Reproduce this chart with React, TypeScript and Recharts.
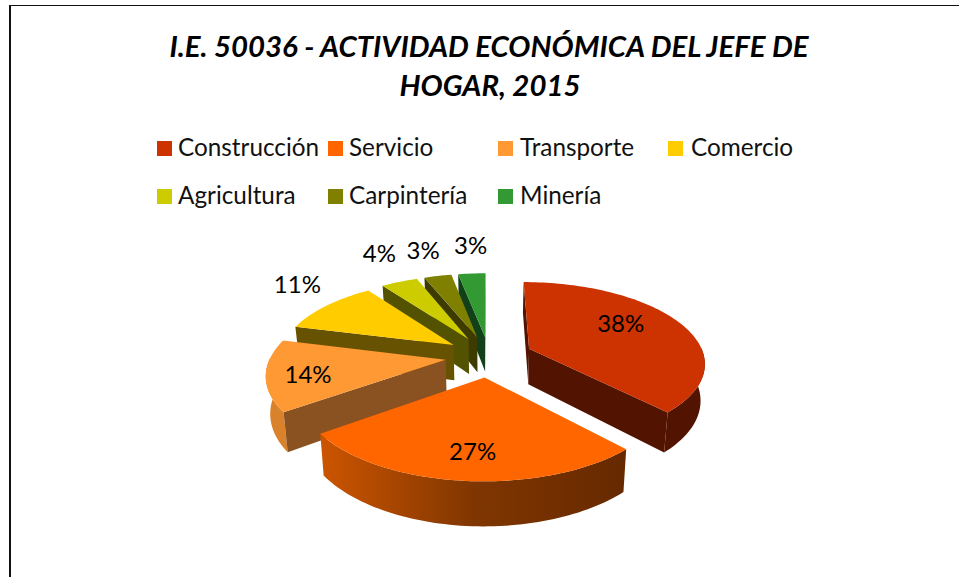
import { Legend, Pie, PieChart } from "recharts";

const CATEGORIES = ["Construcción", "Servicio", "Transporte", "Comercio", "Agricultura", "Carpintería", "Minería"];
const VALUES = [38, 27, 14, 11, 4, 3, 3];
const COLORS = ["#CC3300", "#FF6600", "#FF9933", "#FFCC00", "#CCCC00", "#808000", "#339933"];
const FACE_COLORS = ["#521400", "#662900", "#8A5220", "#665200", "#525200", "#3D3B00", "#124018"];
const ARC_COLORS = ["#521400", "url(#servicioWall)", "#D9822B", "#665200", "#525200", "#3D3B00", "#124018"];
const EXPLODE = [0.25, 0.26, 0.25, 0.25, 0.25, 0.25, 0.25];

// label placement: t along the slice's mid radius, then a pixel nudge
const LABEL_T = [0.6, 0.6, 0.6, 1.2, 1.2, 1.2, 1.2];
const LABEL_NUDGE = [
	[0, -10],
	[0, 16],
	[-31, 5],
	[-6, -15],
	[-8, -20],
	[-8, -16],
	[1, -18],
];

const LEGEND_SWATCH_X = [157, 328, 498, 668];
const LEGEND_TEXT_X = [178, 349, 520, 691];
const LEGEND_ROWS = [140, 188];

const FONT = "Lato, sans-serif";
const PERSPECTIVE = 0.16;
const SQUASH = 79.5 / 175;
const DEPTH = 36;
const WALL_TAPER = 0.98;

// drawn back to front, counter clockwise from 12 o'clock
const tableData = CATEGORIES.map((name, i) => ({ name, value: VALUES[i], index: i })).reverse();

const rad = (deg: number) => (deg * Math.PI) / 180;

function project(cx: number, cy: number, r: number, u: number, v: number) {
	const s = 1 / (1 - PERSPECTIVE * v);
	return { x: cx + r * u * s, y: cy + r * SQUASH * v * s, s };
}

function sliceGeometry(props: any) {
	const { cx, cy, outerRadius, startAngle, endAngle, midAngle, payload } = props;
	const index = payload.index ?? props.index;
	const lo = Math.min(startAngle, endAngle);
	const hi = Math.max(startAngle, endAngle);
	const e = EXPLODE[index];
	const ou = Math.cos(rad(midAngle)) * e;
	const ov = -Math.sin(rad(midAngle)) * e;
	const at = (deg: number, t: number) =>
		project(cx, cy, outerRadius, ou + t * Math.cos(rad(deg)), ov - t * Math.sin(rad(deg)));
	return { index, lo, hi, at };
}

const toPath = (pts: { x: number; y: number }[]) =>
	pts.map((p, i) => `${i ? "L" : "M"}${p.x.toFixed(2)} ${p.y.toFixed(2)}`).join(" ") + " Z";

function signedArea(pts: { x: number; y: number }[]) {
	let a = 0;
	pts.forEach((p, i) => {
		const q = pts[(i + 1) % pts.length];
		a += p.x * q.y - q.x * p.y;
	});
	return a;
}

function Slice(props: any) {
	const { index, lo, hi, at } = sliceGeometry(props);
	const down = (p: { x: number; y: number; s: number }) => ({
		x: props.cx + (p.x - props.cx) * WALL_TAPER,
		y: p.y + DEPTH * p.s,
		s: p.s,
	});
	const rim: { x: number; y: number; s: number }[] = [];
	const steps = Math.max(4, Math.ceil((hi - lo) / 1.5));
	for (let k = 0; k <= steps; k++) rim.push(at(lo + ((hi - lo) * k) / steps, 1));
	const apex = at(lo, 0);

	// outer wall, front half only
	const front: { x: number; y: number; s: number }[] = [];
	for (let k = 0; k <= steps; k++) {
		const deg = lo + ((hi - lo) * k) / steps;
		if (Math.sin(rad(deg)) <= 0.02) front.push(at(deg, 1));
	}
	const arcWall = front.length > 1 ? [...front, ...[...front].reverse().map(down)] : null;

	// radial faces, only those that look at the viewer
	const faceA = [apex, rim[0], down(rim[0]), down(apex)];
	const faceB = [apex, rim[rim.length - 1], down(rim[rim.length - 1]), down(apex)];
	const faces = [];
	if (signedArea(faceA) > 0) faces.push(faceA);
	if (signedArea(faceB) < 0) faces.push(faceB);

	return (
		<g>
			{arcWall && <path d={toPath(arcWall)} fill={ARC_COLORS[index]} />}
			{faces.map((f, i) => (
				<path key={i} d={toPath(f)} fill={FACE_COLORS[index]} />
			))}
			<path d={toPath([apex, ...rim])} fill={COLORS[index]} />
		</g>
	);
}

function SliceLabel(props: any) {
	const { at, index } = sliceGeometry(props);
	const p = at(props.midAngle, LABEL_T[index]);
	const [dx, dy] = LABEL_NUDGE[index];
	return (
		<text
			x={p.x + dx}
			y={p.y + dy}
			textAnchor="middle"
			dominantBaseline="central"
			fontFamily={FONT}
			fontSize={24}
			fill="#000"
		>
			{`${VALUES[index]}%`}
		</text>
	);
}

function ChartLegend() {
	const slots = [
		[0, 0],
		[1, 0],
		[2, 0],
		[3, 0],
		[0, 1],
		[1, 1],
		[2, 1],
	];
	return (
		<div style={{ position: "relative", width: 959, height: 0 }}>
			{CATEGORIES.map((name, i) => {
				const [c, r] = slots[i];
				return (
					<div key={name}>
						<div
							style={{
								position: "absolute",
								left: LEGEND_SWATCH_X[c],
								top: LEGEND_ROWS[r] + 1,
								width: 15,
								height: 15,
								background: COLORS[i],
							}}
						/>
						<div
							style={{
								position: "absolute",
								left: LEGEND_TEXT_X[c],
								top: LEGEND_ROWS[r] - 8,
								fontFamily: FONT,
								fontSize: 24.3,
								lineHeight: "30px",
								color: "#111",
								whiteSpace: "nowrap",
							}}
						>
							{name}
						</div>
					</div>
				);
			})}
		</div>
	);
}

export default function App() {
	return (
		<div style={{ position: "absolute", left: 0, top: 0, width: 959, height: 577, overflow: "hidden", background: "#fff" }}>
			<div style={{ position: "absolute", left: 9, top: 5, right: 0, bottom: 0, borderLeft: "2px solid #111", borderTop: "1px solid #111" }} />
			<PieChart width={959} height={577} margin={{ top: 0, right: 0, bottom: 0, left: 0 }} style={{ position: "absolute", left: 0, top: 0 }}>
				<defs>
					<linearGradient id="servicioWall" x1="0" y1="0" x2="1" y2="0">
						<stop offset="0" stopColor="#CC5500" />
						<stop offset="0.5" stopColor="#803600" />
						<stop offset="1" stopColor="#662900" />
					</linearGradient>
				</defs>
				<text x={489} y={45.5} textAnchor="middle" dominantBaseline="central" fontFamily={FONT} fontWeight={700} fontStyle="italic" fontSize={29.4} fill="#000">
					I.E. 50036 - ACTIVIDAD ECONÓMICA DEL JEFE DE
				</text>
				<text x={490} y={84.5} textAnchor="middle" dominantBaseline="central" fontFamily={FONT} fontWeight={700} fontStyle="italic" fontSize={29.4} fill="#000">
					HOGAR, 2015
				</text>
				<Legend content={<ChartLegend />} wrapperStyle={{ position: "absolute", left: 0, top: 0, width: 959, height: 0 }} />
				<Pie
					data={tableData}
					dataKey="value"
					nameKey="name"
					cx={489}
					cy={356}
					outerRadius={175}
					startAngle={90}
					endAngle={450}
					stroke="none"
					isAnimationActive={false}
					shape={Slice}
					label={SliceLabel}
					labelLine={false}
				/>
			</PieChart>
		</div>
	);
}
